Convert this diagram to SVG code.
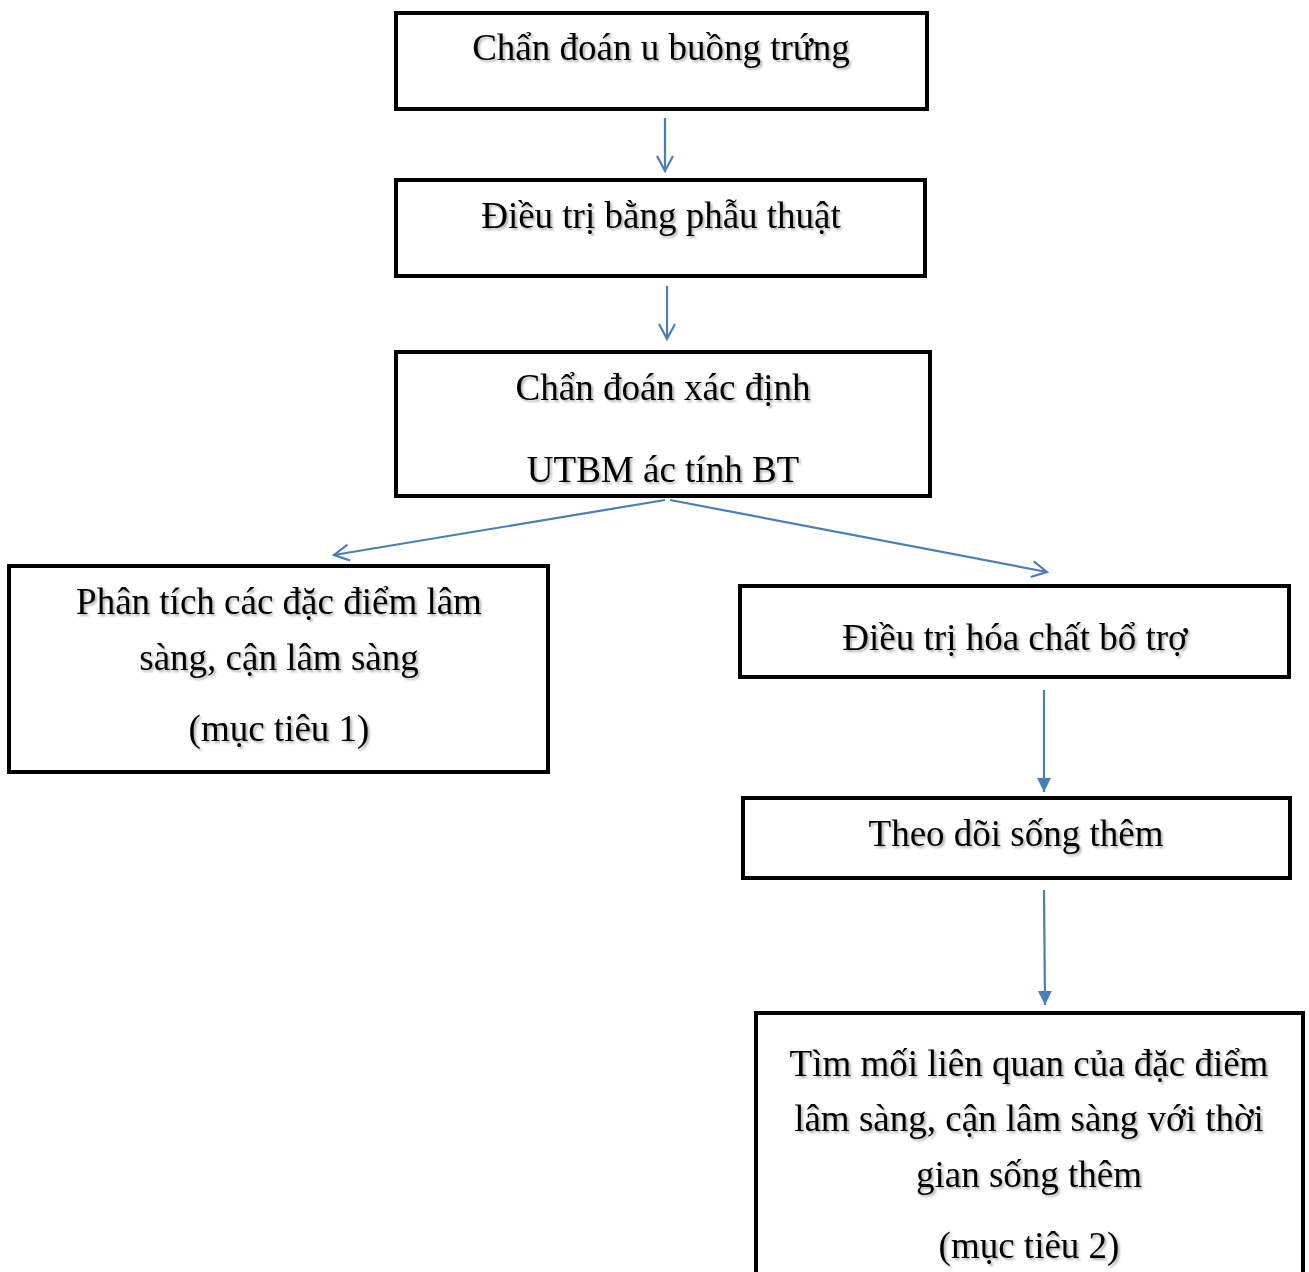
<svg xmlns="http://www.w3.org/2000/svg" width="1309" height="1272" viewBox="0 0 1309 1272">
<style>
.box{fill:#fff;stroke:#000;stroke-width:4}
.t{font-family:"Liberation Serif","Times New Roman",serif;font-size:37px;fill:#000;text-anchor:middle;filter:url(#sh)}
.c{stroke:#4A7EBB;stroke-width:2.2;fill:none}
</style>
<defs>
<filter id="sh" x="-5%" y="-30%" width="110%" height="160%">
<feDropShadow dx="2" dy="2" stdDeviation="1.2" flood-color="#000" flood-opacity="0.3"/>
</filter>
<marker id="open" markerWidth="22" markerHeight="22" refX="16" refY="9" orient="auto" markerUnits="userSpaceOnUse">
<path d="M1,1 L16,9 L1,17" fill="none" stroke="#4A7EBB" stroke-width="2.2"/>
</marker>
<marker id="fill" markerWidth="20" markerHeight="20" refX="14" refY="7" orient="auto" markerUnits="userSpaceOnUse">
<path d="M0,0 L14,7 L0,14 Z" fill="#4A7EBB"/>
</marker>
</defs>
<g id="connectors">
<line class="c" x1="665" y1="118" x2="665" y2="171" marker-end="url(#open)"/>
<line class="c" x1="667" y1="286" x2="667" y2="339" marker-end="url(#open)"/>
<line class="c" x1="665" y1="500" x2="334" y2="555" marker-end="url(#open)"/>
<line class="c" x1="670" y1="500" x2="1047" y2="572" marker-end="url(#open)"/>
<line class="c" x1="1044" y1="690" x2="1044" y2="792" marker-end="url(#fill)"/>
<line class="c" x1="1044" y1="890" x2="1045" y2="1005" marker-end="url(#fill)"/>
</g>
<g id="n1">
<rect class="box" x="396" y="13" width="531" height="96"/>
<text class="t" x="661" y="60">Chẩn đoán u buồng trứng</text>
</g>
<g id="n2">
<rect class="box" x="396" y="180" width="529" height="96"/>
<text class="t" x="661" y="228">Điều trị bằng phẫu thuật</text>
</g>
<g id="n3">
<rect class="box" x="396" y="352" width="534" height="144"/>
<text class="t" x="663" y="400">Chẩn đoán xác định</text>
<text class="t" x="663" y="482">UTBM ác tính BT</text>
</g>
<g id="n4">
<rect class="box" x="9" y="566" width="539" height="206"/>
<text class="t" x="279" y="614">Phân tích các đặc điểm lâm</text>
<text class="t" x="279" y="670">sàng, cận lâm sàng</text>
<text class="t" x="279" y="741">(mục tiêu 1)</text>
</g>
<g id="n5">
<rect class="box" x="740" y="586" width="549" height="91"/>
<text class="t" x="1015" y="650">Điều trị hóa chất bổ trợ</text>
</g>
<g id="n6">
<rect class="box" x="743" y="798" width="547" height="80"/>
<text class="t" x="1016" y="846">Theo dõi sống thêm</text>
</g>
<g id="n7">
<rect class="box" x="756" y="1013" width="547" height="270"/>
<text class="t" x="1029" y="1076">Tìm mối liên quan của đặc điểm</text>
<text class="t" x="1029" y="1131">lâm sàng, cận lâm sàng với thời</text>
<text class="t" x="1029" y="1187">gian sống thêm</text>
<text class="t" x="1029" y="1258">(mục tiêu 2)</text>
</g>
</svg>
